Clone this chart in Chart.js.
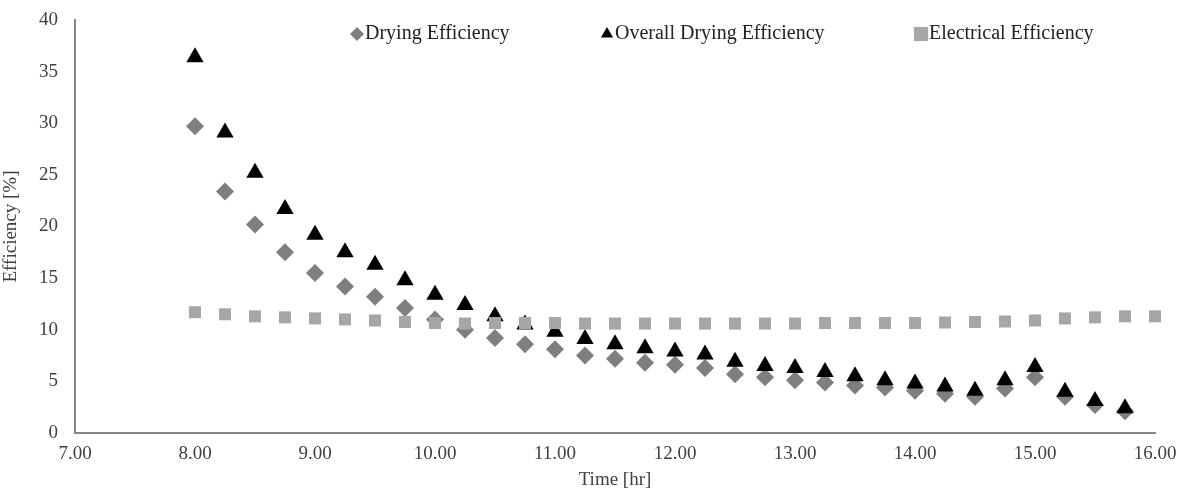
<!DOCTYPE html>
<html lang="en">
<head>
  <meta charset="UTF-8" />
  <title>Efficiency vs Time</title>
  <style>
    html, body {
      margin: 0;
      padding: 0;
      background: #fff;
    }
    #wrap {
      width: 1177px;
      height: 488px;
    }
  </style>
</head>
<body>
  <div id="wrap"><canvas id="chartCanvas"></canvas></div>

  <script src="https://cdn.jsdelivr.net/npm/chart.js"></script>
  <script>
    // time of day [hr]
    const times = [8.00, 8.25, 8.50, 8.75, 9.00, 9.25, 9.50, 9.75, 10.00, 10.25, 10.50, 10.75,
      11.00, 11.25, 11.50, 11.75, 12.00, 12.25, 12.50, 12.75, 13.00, 13.25, 13.50, 13.75,
      14.00, 14.25, 14.50, 14.75, 15.00, 15.25, 15.50, 15.75];
    const electricalTimes = [8.00, 8.25, 8.50, 8.75, 9.00, 9.25, 9.50, 9.75, 10.00, 10.25, 10.50, 10.75,
      11.00, 11.25, 11.50, 11.75, 12.00, 12.25, 12.50, 12.75, 13.00, 13.25, 13.50, 13.75,
      14.00, 14.25, 14.50, 14.75, 15.00, 15.25, 15.50, 15.75, 16.00];

    // efficiencies [%]
    const dryingEff = [29.7, 23.4, 20.2, 17.5, 15.5, 14.2, 13.2, 12.1, 11.0, 10.0, 9.2, 8.6,
      8.1, 7.5, 7.2, 6.8, 6.6, 6.3, 5.7, 5.4, 5.1, 4.9, 4.6, 4.4,
      4.1, 3.8, 3.5, 4.3, 5.4, 3.5, 2.7, 2.1];
    const overallEff = [36.4, 29.1, 25.2, 21.7, 19.2, 17.5, 16.3, 14.8, 13.4, 12.4, 11.3, 10.5,
      9.8, 9.1, 8.6, 8.2, 7.9, 7.6, 6.9, 6.5, 6.3, 5.9, 5.5, 5.1,
      4.8, 4.5, 4.1, 5.1, 6.4, 4.0, 3.1, 2.4];
    const electricalEff = [11.7, 11.5, 11.3, 11.2, 11.1, 11.0, 10.9, 10.75, 10.65, 10.6, 10.65, 10.65,
      10.65, 10.6, 10.6, 10.6, 10.6, 10.6, 10.6, 10.6, 10.6, 10.65, 10.65, 10.65,
      10.65, 10.7, 10.75, 10.8, 10.9, 11.1, 11.2, 11.3, 11.3];

    const seriesNames = ['Drying Efficiency', 'Overall Drying Efficiency', 'Electrical Efficiency'];

    const serif = 'Liberation Serif, Times New Roman, serif';
    const axisColor = '#868686';
    const textColor = '#404040';

    function toPoints(xs, ys) {
      return xs.map((x, i) => ({ x: x, y: ys[i] }));
    }

    // legend drawn by hand so the items sit where the original put them
    const legendMarkerX = [357, 607, 921];
    const legendY = 34;

    const manualLegend = {
      id: 'manualLegend',
      afterDraw(chart) {
        const ctx = chart.ctx;
        ctx.save();
        ctx.font = '20px ' + serif;
        ctx.textBaseline = 'middle';
        chart.data.datasets.forEach((ds, i) => {
          const cx = legendMarkerX[i];
          const r = ds.pointStyle === 'rect' ? 10 : 7;
          ctx.fillStyle = ds.backgroundColor;
          ctx.strokeStyle = ds.backgroundColor;
          Chart.helpers.drawPoint(ctx, { pointStyle: ds.pointStyle, rotation: 0, borderWidth: 0, radius: r }, cx, legendY);
          ctx.fillStyle = '#222';
          ctx.fillText(ds.label, cx + 8, legendY);
        });
        ctx.restore();
      }
    };

    const chart = new Chart(document.getElementById('chartCanvas'), {
      type: 'scatter',
      data: {
        datasets: [
          {
            label: seriesNames[0],
            data: toPoints(times, dryingEff),
            pointStyle: 'rectRot',
            pointRadius: 9,
            backgroundColor: '#7f7f7f',
            borderColor: '#7f7f7f',
            borderWidth: 0,
            clip: false,
            order: 3
          },
          {
            label: seriesNames[1],
            data: toPoints(times, overallEff),
            pointStyle: 'triangle',
            pointRadius: 10,
            backgroundColor: '#000000',
            borderColor: '#000000',
            borderWidth: 0,
            clip: false,
            order: 2
          },
          {
            label: seriesNames[2],
            data: toPoints(electricalTimes, electricalEff),
            pointStyle: 'rect',
            pointRadius: 8.5,
            backgroundColor: '#a6a6a6',
            borderColor: '#a6a6a6',
            borderWidth: 0,
            clip: false,
            order: 1
          }
        ]
      },
      options: {
        responsive: true,
        maintainAspectRatio: false,
        animation: false,
        layout: { padding: { top: 20, right: 22, left: 0, bottom: 0 } },
        plugins: {
          legend: { display: false },
          tooltip: { enabled: false }
        },
        scales: {
          x: {
            type: 'linear',
            min: 7,
            max: 16,
            grid: { display: false, drawTicks: false },
            border: { display: true, color: axisColor, width: 2 },
            ticks: {
              stepSize: 1,
              padding: 10,
              color: textColor,
              font: { family: serif, size: 19 },
              callback: v => Number(v).toFixed(2)
            },
            title: {
              display: true,
              text: 'Time [hr]',
              color: textColor,
              font: { family: serif, size: 19 },
              padding: { top: 0, bottom: -3 }
            },
            afterFit: scale => {
              scale.height = 55;
              scale.paddingLeft = 0;
              scale.paddingRight = 0;
            }
          },
          y: {
            min: 0,
            max: 40,
            grid: { display: false, drawTicks: false },
            border: { display: true, color: axisColor, width: 2 },
            ticks: {
              stepSize: 5,
              padding: 17,
              color: textColor,
              font: { family: serif, size: 19 }
            },
            title: {
              display: true,
              text: 'Efficiency [%]',
              color: textColor,
              font: { family: serif, size: 19 },
              padding: { top: 0, bottom: 0 }
            },
            afterFit: scale => {
              scale.width = 75;
              scale.paddingTop = 0;
              scale.paddingBottom = 0;
            }
          }
        }
      },
      plugins: [manualLegend]
    });
  </script>
</body>
</html>
